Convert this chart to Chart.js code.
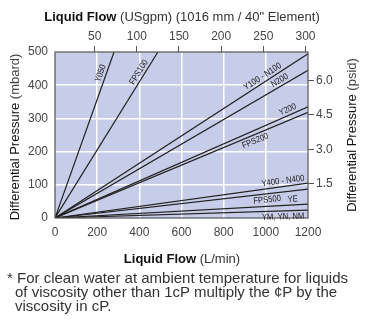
<!DOCTYPE html>
<html>
<head>
<meta charset="utf-8">
<script src="https://cdn.jsdelivr.net/npm/chart.js@4.4.1/dist/chart.umd.min.js"></script>
<style>
  html,body{margin:0;padding:0;background:#fff;}
  #wrap{position:relative;width:367px;height:325px;overflow:hidden;}
  #c{position:absolute;left:0;top:0;}
  #note{position:absolute;left:7px;top:271px;width:358px;font:15px "Liberation Sans",Arial,sans-serif;color:#333;line-height:14px;padding-left:8px;text-indent:-8px;white-space:nowrap;}
</style>
</head>
<body>
<div id="wrap">
<canvas id="c" width="367" height="325"></canvas>
<div id="note">* For clean water at ambient temperature for liquids<br>of viscosity other than 1cP multiply the ¢P by the<br>viscosity in cP.</div>
</div>
<script>
// ---- data ----
const seriesNames   = ['Y050','FPS100','Y100 - N100','N200','Y200','FPS200','Y400 - N400','FPS500','YE','YM, YN, NM'];
const endFlowLpm    = [280, 488, 1200, 1200, 1200, 1200, 1200, 1200, 1200, 1200];   // L/min at end of line
const endPressMbar  = [500, 500, 495, 445, 335, 318, 105, 87, 42, 24];               // mbar at end of line
const labelFlowLpm  = [241, 420, 999, 1079, 1114, 939, 1085, 1003, 1129, 1081];
const labelSide     = ['above','above','above','above','above','below','above','below','above','below'];
const flowTicksLpm  = [0, 200, 400, 600, 800, 1000, 1200];
const flowTicksGpm  = [50, 100, 150, 200, 250, 300];
const pressTicksMbar= [0, 100, 200, 300, 400, 500];
const pressTicksPsi = [1.5, 3.0, 4.5, 6.0];
const MBAR_PER_PSI = 68.9476;

const FONT = '"Liberation Sans", Arial, sans-serif';
const TICKC = '#444';
const AXC = '#555';

const datasets = seriesNames.map((n,i)=>({
  label:n,
  data:[{x:0,y:0},{x:endFlowLpm[i],y:endPressMbar[i]}],
  showLine:true, pointRadius:0, borderColor:'#222', borderWidth:1.2, fill:false
}));

const bgPlugin = {
  id:'bg',
  beforeDraw(chart){
    const {ctx, chartArea:a} = chart;
    ctx.save(); ctx.fillStyle='#c7cde8'; ctx.fillRect(a.left,a.top,a.right-a.left,a.bottom-a.top); ctx.restore();
  }
};

const decoPlugin = {
  id:'deco',
  afterDatasetsDraw(chart){
    const {ctx, chartArea:a} = chart;
    const xs = chart.scales.x, ys = chart.scales.y;
    ctx.save();
    ctx.strokeStyle = AXC; ctx.lineWidth = 1.2;
    ctx.strokeRect(a.left, a.top, a.right-a.left, a.bottom-a.top);
    ctx.fillStyle = '#1a1a1a';
    ctx.font = '9px ' + FONT;
    seriesNames.forEach((n,i)=>{
      const f = labelFlowLpm[i];
      const p = f*endPressMbar[i]/endFlowLpm[i];
      const px = xs.getPixelForValue(f), py = ys.getPixelForValue(p);
      const ang = Math.atan2(ys.getPixelForValue(endPressMbar[i])-ys.getPixelForValue(0),
                             xs.getPixelForValue(endFlowLpm[i])-xs.getPixelForValue(0));
      ctx.save();
      ctx.translate(px,py); ctx.rotate(ang); ctx.scale(0.85,1);
      ctx.textAlign='center';
      if(labelSide[i]==='above'){ ctx.textBaseline='bottom'; ctx.fillText(n,0,-1); }
      else { ctx.textBaseline='top'; ctx.fillText(n,0,1.5); }
      ctx.restore();
    });
    ctx.restore();
  },
  afterDraw(chart){
    const {ctx} = chart;
    function two(b, r, cx, cy, rot){
      ctx.save();
      ctx.translate(cx,cy); if(rot) ctx.rotate(rot);
      ctx.textBaseline='middle'; ctx.textAlign='left';
      ctx.font = b.f; const w1 = ctx.measureText(b.t).width;
      ctx.font = r.f; const w2 = ctx.measureText(r.t).width;
      const x0 = -(w1+w2)/2;
      ctx.font=b.f; ctx.fillStyle=b.c; ctx.fillText(b.t,x0,0);
      ctx.font=r.f; ctx.fillStyle=r.c; ctx.fillText(r.t,x0+w1,0);
      ctx.restore();
    }
    two({t:'Liquid Flow', f:'bold 13px '+FONT, c:'#111'}, {t:' (USgpm) (1016 mm / 40" Element)', f:'13px '+FONT, c:'#333'}, 182, 17, 0);
    two({t:'Liquid Flow', f:'bold 13px '+FONT, c:'#111'}, {t:' (L/min)', f:'13px '+FONT, c:'#333'}, 182, 259, 0);
    two({t:'Differential Pressure', f:'13px '+FONT, c:'#111'}, {t:' (mbard)', f:'13px '+FONT, c:'#444'}, 15, 137, -Math.PI/2);
    two({t:'Differential Pressure', f:'13px '+FONT, c:'#111'}, {t:' (psid)', f:'13px '+FONT, c:'#444'}, 352, 135, -Math.PI/2);
  }
};

const tickFont = {family:FONT, size:12};
const noEdge = (lo,hi)=>ctx=>(ctx.tick && (ctx.tick.value===lo||ctx.tick.value===hi))?'rgba(0,0,0,0)':'#ffffff';

new Chart(document.getElementById('c'), {
  type:'scatter',
  data:{datasets},
  plugins:[bgPlugin, decoPlugin],
  options:{
    responsive:false, animation:false, devicePixelRatio:1,
    layout:{padding:0},
    plugins:{legend:{display:false}, tooltip:{enabled:false}},
    scales:{
      x:{type:'linear', position:'bottom', min:0, max:1200,
         afterBuildTicks(s){ s.ticks = flowTicksLpm.map(v=>({value:v})); },
         ticks:{font:tickFont, color:TICKC, padding:7, maxRotation:0, callback:v=>String(v)},
         grid:{color:noEdge(0,1200), lineWidth:1.5, drawTicks:false},
         border:{display:false},
         afterFit(s){ s.height = 107; }},
      x2:{type:'linear', position:'top', min:3, max:303,
         afterBuildTicks(s){ s.ticks = flowTicksGpm.map(v=>({value:v})); },
         ticks:{font:tickFont, color:TICKC, padding:2, maxRotation:0, callback:v=>String(v)},
         grid:{drawOnChartArea:false, drawTicks:true, tickLength:6, color:AXC, lineWidth:1},
         border:{display:false},
         afterFit(s){ s.height = 52; }},
      y:{type:'linear', position:'left', min:0, max:500,
         afterBuildTicks(s){ s.ticks = pressTicksMbar.map(v=>({value:v})); },
         ticks:{font:tickFont, color:TICKC, padding:7, callback:v=>String(v)},
         grid:{color:noEdge(0,500), lineWidth:1.5, drawTicks:false},
         border:{display:false},
         afterFit(s){ s.width = 55; }},
      y2:{type:'linear', position:'right', min:0, max:500/MBAR_PER_PSI,
         afterBuildTicks(s){ s.ticks = pressTicksPsi.map(v=>({value:v})); },
         ticks:{font:tickFont, color:TICKC, padding:2, callback:v=>Number(v).toFixed(1)},
         grid:{drawOnChartArea:false, drawTicks:true, tickLength:6, color:AXC, lineWidth:1},
         border:{display:false},
         afterFit(s){ s.width = 59; }}
    }
  }
});
</script>
</body>
</html>
